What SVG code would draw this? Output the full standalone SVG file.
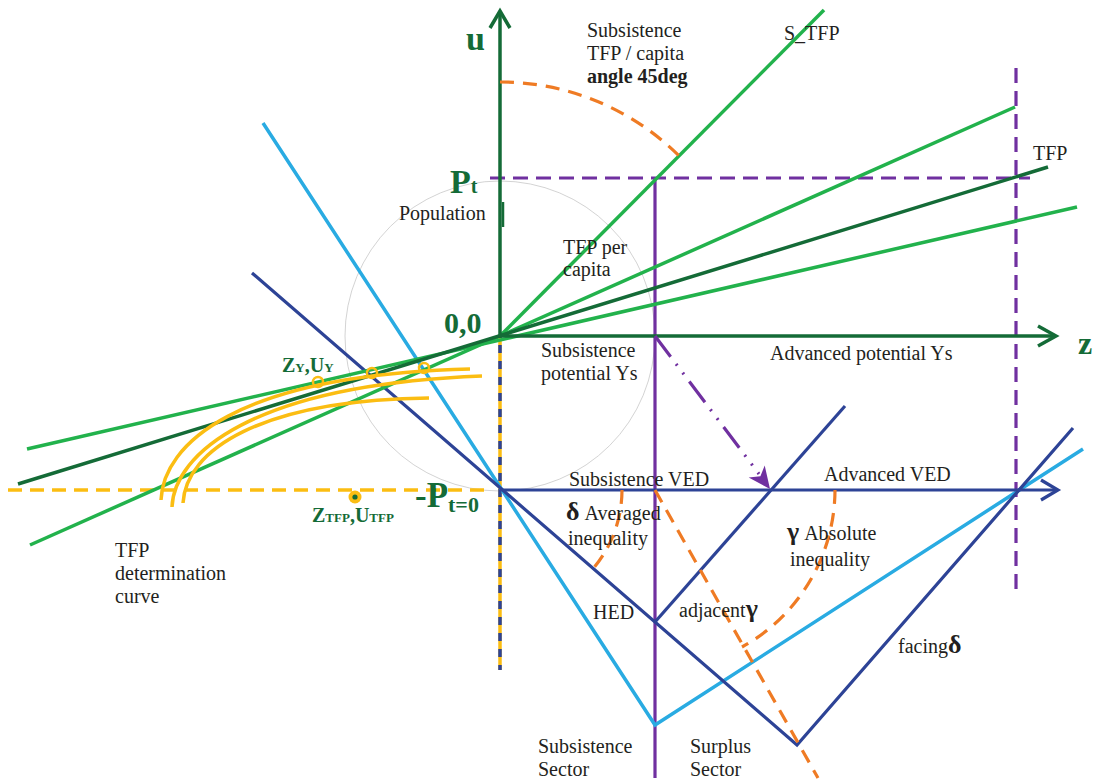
<svg xmlns="http://www.w3.org/2000/svg" width="1096" height="781" viewBox="0 0 1096 781">
<defs>
<style>
.t{font-family:"Liberation Serif",serif;font-size:20px;fill:#231f20}
.g{font-family:"Liberation Serif",serif;font-weight:bold;fill:#146b37}
.b{font-weight:bold}
.ln{fill:none;stroke-linecap:butt}
.dg{stroke:#146b37;stroke-width:3.5}
.bg{stroke:#22b24c;stroke-width:3.5}
.lb{stroke:#29abe2;stroke-width:3.5}
.db{stroke:#2d4396;stroke-width:3.2}
.pu{stroke:#7030a0;stroke-width:3.2}
.pud{stroke:#7030a0;stroke-width:3.2;stroke-dasharray:15 8}
.or{stroke:#ef7b24;stroke-width:3.2;stroke-dasharray:14 9}
.ye{stroke:#fbbd12;stroke-width:3.5}
.yed{stroke:#fbbd12;stroke-width:3.5;stroke-dasharray:14 8}
</style>
</defs>
<rect width="1096" height="781" fill="#ffffff"/>
<g id="guide-circle">
<circle cx="500" cy="336" r="155" fill="none" stroke="#c8c8c8" stroke-width="0.8"/>
</g>
<g id="connectors">
<!-- purple guides -->
<line class="ln pud" x1="490" y1="178" x2="1030" y2="178"/>
<line class="ln pud" x1="1016" y1="68" x2="1016" y2="590"/>
<line class="ln pu" x1="655" y1="177" x2="655" y2="778"/>
<!-- yellow dashed -->
<line class="ln yed" x1="8" y1="490" x2="488" y2="490"/>
<line class="ln ye" x1="500" y1="338" x2="500" y2="670"/>
<line class="ln" x1="500" y1="345" x2="500" y2="670" stroke="#2d4396" stroke-width="3.5" stroke-dasharray="8 8"/>
<!-- light blue -->
<polyline class="ln lb" points="263,123 655,725 1083,449"/>
<!-- dark blue -->
<polyline class="ln db" points="252,273 797,745 1073,428"/>
<line class="ln db" x1="655" y1="622" x2="845" y2="406"/>
<line class="ln db" x1="500" y1="490" x2="1056" y2="490"/>
<polyline class="ln db" points="1041,480 1058,490 1041,500"/>
<!-- green lines -->
<line class="ln bg" x1="30" y1="545" x2="1015" y2="107"/>
<line class="ln bg" x1="27" y1="449" x2="1077" y2="207"/>
<line class="ln bg" x1="500" y1="336" x2="824" y2="10"/>
<line class="ln dg" x1="18" y1="484" x2="1048" y2="167"/>
<!-- axes -->
<line class="ln dg" x1="500" y1="11" x2="500" y2="338"/>
<polyline class="ln dg" points="490,28 500,11 510,28"/>
<line class="ln dg" x1="500" y1="336" x2="1055" y2="336"/>
<polyline class="ln dg" points="1038,326 1056,336 1038,346"/>
<line class="ln" x1="503" y1="202" x2="503" y2="227" stroke="#146b37" stroke-width="2.5"/>
<!-- orange arcs -->
<path class="ln or" d="M500,82 A254,254 0 0 1 679.6,156.4"/>
<path class="ln or" d="M622,490 A122,122 0 0 1 592,570"/>
<path class="ln or" d="M835,490 A180,180 0 0 1 742,647"/>
<line class="ln or" x1="655" y1="490" x2="818" y2="778"/>
<!-- purple dash-dot arrow -->
<line class="ln" x1="655" y1="336" x2="759" y2="474" stroke="#7030a0" stroke-width="3.2" stroke-dasharray="26 9 2 9 2 9"/>
<path d="M770,489 L748.7,477.5 L760.4,476.2 L764.7,465.5 Z" fill="#7030a0"/>
<!-- yellow TFP determination curves -->
<path class="ln ye" d="M161,500 C163,445 235,375 470,369"/>
<path class="ln ye" d="M172,507 C174,455 250,385 482,376"/>
<path class="ln ye" d="M183,503 C186,450 260,400 429,398"/>
<circle cx="318" cy="382" r="5" fill="none" stroke="#fbbd12" stroke-width="2.5"/>
<circle cx="372" cy="373" r="5" fill="none" stroke="#fbbd12" stroke-width="2.5"/>
<circle cx="424" cy="368" r="5" fill="none" stroke="#fbbd12" stroke-width="2.5"/>
<circle cx="355" cy="497" r="6.5" fill="#fbbd12"/>
<circle cx="355" cy="497" r="2.6" fill="#146b37"/>
</g>
<g id="axis-labels">
<text class="g" x="466" y="50" font-size="34">u</text>
<text class="g" x="1078" y="354" font-size="32">z</text>
<text class="g" x="444" y="333" font-size="30">0,0</text>
<text class="g" x="450" y="193" font-size="34">P<tspan font-size="20">t</tspan></text>
<text class="g" x="415" y="507" font-size="35">-P<tspan font-size="22" dy="5">t=0</tspan></text>
<text class="g" x="282" y="372" font-size="20">Z<tspan font-size="13">Y</tspan>,U<tspan font-size="13">Y</tspan></text>
<text class="g" x="312" y="522" font-size="20">Z<tspan font-size="13">TFP</tspan>,U<tspan font-size="13">TFP</tspan></text>
</g>
<g id="label-subsistence-tfp">
<text class="t" x="587" y="37">Subsistence</text>
<text class="t" x="587" y="60">TFP / capita</text>
<text class="t b" x="587" y="83">angle 45deg</text>
</g>
<g id="label-stfp"><text class="t" x="784" y="40">S_TFP</text></g>
<g id="label-tfp"><text class="t" x="1033" y="160">TFP</text></g>
<g id="label-population"><text class="t" x="399" y="220">Population</text></g>
<g id="label-tfp-per-capita">
<text class="t" x="563" y="254">TFP per</text>
<text class="t" x="563" y="276">capita</text>
</g>
<g id="label-subsistence-potential">
<text class="t" x="541" y="357">Subsistence</text>
<text class="t" x="541" y="380">potential Ys</text>
</g>
<g id="label-advanced-potential"><text class="t" x="770" y="360">Advanced potential Ys</text></g>
<g id="label-subsistence-ved"><text class="t" x="569" y="486">Subsistence VED</text></g>
<g id="label-advanced-ved"><text class="t" x="824" y="481">Advanced VED</text></g>
<g id="label-averaged">
<text class="t" x="566" y="520"><tspan class="b" font-size="26">δ</tspan> Averaged</text>
<text class="t" x="568" y="545">inequality</text>
</g>
<g id="label-absolute">
<text class="t" x="787" y="540"><tspan class="b" font-size="26">γ</tspan> Absolute</text>
<text class="t" x="790" y="566">inequality</text>
</g>
<g id="label-hed"><text class="t" x="593" y="619">HED</text></g>
<g id="label-adjacent"><text class="t" x="679" y="617">adjacent<tspan class="b" font-size="26">γ</tspan></text></g>
<g id="label-facing"><text class="t" x="898" y="653">facing<tspan class="b" font-size="26">δ</tspan></text></g>
<g id="label-tfp-curve">
<text class="t" x="115" y="557">TFP</text>
<text class="t" x="115" y="580">determination</text>
<text class="t" x="115" y="603">curve</text>
</g>
<g id="label-subsistence-sector">
<text class="t" x="538" y="753">Subsistence</text>
<text class="t" x="538" y="776">Sector</text>
</g>
<g id="label-surplus-sector">
<text class="t" x="690" y="753">Surplus</text>
<text class="t" x="690" y="776">Sector</text>
</g>
</svg>
